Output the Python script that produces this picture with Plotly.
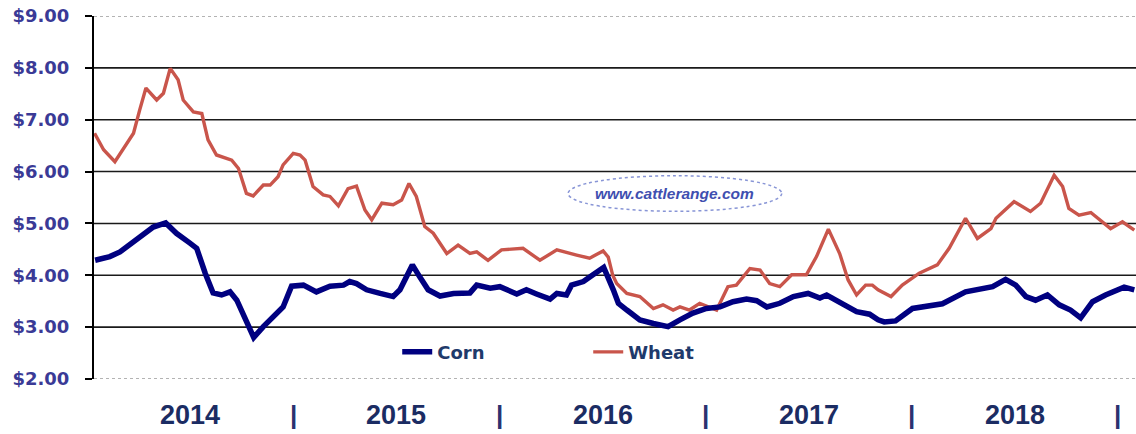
import plotly.graph_objects as go

# ---------------- data ----------------
corn_dates = [
    "2014-01-15", "2014-02-10", "2014-02-28", "2014-03-30", "2014-04-28", "2014-05-20",
    "2014-06-08", "2014-07-02", "2014-07-14", "2014-07-29", "2014-08-12", "2014-08-27",
    "2014-09-11", "2014-09-23", "2014-10-10", "2014-10-23", "2014-11-09", "2014-11-27",
    "2014-12-14", "2014-12-29", "2015-01-19", "2015-02-11", "2015-03-07", "2015-03-31",
    "2015-04-11", "2015-04-23", "2015-05-11", "2015-06-04", "2015-06-27", "2015-07-09",
    "2015-07-31", "2015-08-13", "2015-08-28", "2015-09-18", "2015-10-12", "2015-11-10",
    "2015-11-22", "2015-12-16", "2016-01-02", "2016-02-01", "2016-02-18", "2016-03-07",
    "2016-03-31", "2016-04-12", "2016-04-29", "2016-05-08", "2016-05-29", "2016-06-15",
    "2016-07-04", "2016-07-21", "2016-07-30", "2016-08-14", "2016-09-06", "2016-09-30",
    "2016-10-26", "2016-11-16", "2016-12-09", "2017-01-02", "2017-01-26", "2017-02-18",
    "2017-03-14", "2017-04-01", "2017-04-19", "2017-05-12", "2017-06-05", "2017-07-01",
    "2017-07-22", "2017-08-03", "2017-08-26", "2017-09-25", "2017-10-18", "2017-11-02",
    "2017-11-13", "2017-12-03", "2018-01-02", "2018-01-26", "2018-02-24", "2018-04-06",
    "2018-04-30", "2018-05-24", "2018-06-16", "2018-07-04", "2018-07-22", "2018-08-08",
    "2018-08-29", "2018-09-19", "2018-10-09", "2018-10-27", "2018-11-17", "2018-12-10",
    "2019-01-12", "2019-01-30",
]
corn_values = [
    4.29, 4.36, 4.45, 4.71, 4.93, 5.01,
    4.81, 4.62, 4.52, 4.04, 3.66, 3.62,
    3.68, 3.52, 3.10, 2.80, 3.01, 3.20,
    3.39, 3.79, 3.81, 3.68, 3.79, 3.81,
    3.88, 3.84, 3.72, 3.65, 3.59, 3.72,
    4.20, 3.97, 3.72, 3.60, 3.65, 3.66,
    3.81, 3.75, 3.78, 3.64, 3.72, 3.64,
    3.54, 3.65, 3.62, 3.81, 3.88, 4.01,
    4.15, 3.72, 3.46, 3.33, 3.14, 3.07,
    3.01, 3.14, 3.27, 3.36, 3.39, 3.49,
    3.54, 3.51, 3.39, 3.46, 3.59, 3.65,
    3.56, 3.62, 3.49, 3.30, 3.25, 3.14,
    3.10, 3.12, 3.36, 3.39, 3.45, 3.68,
    3.72, 3.78, 3.92, 3.81, 3.59, 3.52,
    3.62, 3.43, 3.33, 3.18, 3.49, 3.62,
    3.77, 3.72,
]

wheat_dates = [
    "2014-01-14", "2014-01-30", "2014-02-19", "2014-03-12", "2014-03-24", "2014-04-04",
    "2014-04-15", "2014-05-04", "2014-05-16", "2014-05-28", "2014-06-11", "2014-06-20",
    "2014-07-08", "2014-07-23", "2014-08-03", "2014-08-18", "2014-09-14", "2014-09-26",
    "2014-10-10", "2014-10-22", "2014-11-09", "2014-11-21", "2014-12-05", "2014-12-14",
    "2015-01-01", "2015-01-13", "2015-01-22", "2015-02-05", "2015-02-23", "2015-03-07",
    "2015-03-22", "2015-04-08", "2015-04-23", "2015-05-08", "2015-05-20", "2015-06-07",
    "2015-06-27", "2015-07-12", "2015-07-25", "2015-08-07", "2015-08-22", "2015-09-06",
    "2015-09-30", "2015-10-20", "2015-11-10", "2015-11-22", "2015-12-12", "2016-01-05",
    "2016-02-12", "2016-03-13", "2016-04-12", "2016-05-17", "2016-06-09", "2016-07-03",
    "2016-07-12", "2016-07-20", "2016-07-27", "2016-08-14", "2016-09-06", "2016-09-30",
    "2016-10-17", "2016-11-04", "2016-11-16", "2016-12-03", "2016-12-21", "2017-01-20",
    "2017-02-09", "2017-02-24", "2017-03-20", "2017-04-07", "2017-04-24", "2017-05-12",
    "2017-06-02", "2017-06-28", "2017-07-16", "2017-08-06", "2017-08-26", "2017-09-10",
    "2017-09-25", "2017-10-11", "2017-10-23", "2017-11-02", "2017-11-25", "2017-12-15",
    "2018-01-14", "2018-02-15", "2018-03-08", "2018-04-06", "2018-04-27", "2018-05-21",
    "2018-05-30", "2018-07-01", "2018-07-30", "2018-08-17", "2018-09-10", "2018-09-25",
    "2018-10-06", "2018-10-24", "2018-11-14", "2018-12-19", "2019-01-09", "2019-01-30",
]
wheat_values = [
    6.74, 6.42, 6.19, 6.54, 6.74, 7.19,
    7.61, 7.38, 7.51, 7.99, 7.77, 7.38,
    7.15, 7.12, 6.61, 6.32, 6.22, 6.06,
    5.58, 5.53, 5.74, 5.74, 5.90, 6.13,
    6.35, 6.32, 6.22, 5.71, 5.55, 5.52,
    5.34, 5.67, 5.72, 5.26, 5.07, 5.39,
    5.36, 5.45, 5.77, 5.52, 4.94, 4.81,
    4.42, 4.58, 4.42, 4.45, 4.29, 4.49,
    4.52, 4.29, 4.49, 4.39, 4.33, 4.47,
    4.35, 4.00, 3.84, 3.65, 3.59, 3.36,
    3.43, 3.33, 3.39, 3.33, 3.46, 3.33,
    3.78, 3.81, 4.13, 4.10, 3.84, 3.78,
    4.01, 4.01, 4.36, 4.89, 4.42, 3.91,
    3.62, 3.81, 3.81, 3.72, 3.59, 3.81,
    4.04, 4.20, 4.52, 5.10, 4.71, 4.90,
    5.10, 5.42, 5.23, 5.39, 5.93, 5.71,
    5.29, 5.16, 5.21, 4.90, 5.03, 4.87,
]

y_ticks = [2, 3, 4, 5, 6, 7, 8, 9]
y_tick_labels = ["$2.00", "$3.00", "$4.00", "$5.00", "$6.00", "$7.00", "$8.00", "$9.00"]
grid_values = [3, 4, 5, 6, 7, 8]
years = ["2014", "2015", "2016", "2017", "2018"]
year_mid_dates = ["2014-07-02", "2015-07-02", "2016-07-02", "2017-07-02", "2018-07-02"]
year_end_dates = ["2015-01-01", "2016-01-01", "2017-01-01", "2018-01-01", "2019-01-01"]
x_range = ["2014-01-13", "2019-02-02"]
y_range = [2, 9]

# ---------------- figure ----------------
fig = go.Figure()
fig.add_trace(go.Scatter(
    x=wheat_dates, y=wheat_values, mode="lines", name="Wheat", legendrank=2,
    line=dict(color="#C9554B", width=3.4),
))
fig.add_trace(go.Scatter(
    x=corn_dates, y=corn_values, mode="lines", name="Corn", legendrank=1,
    line=dict(color="#000080", width=5.5),
))

shapes = []
for g in grid_values:
    shapes.append(dict(type="line", xref="paper", x0=0, x1=1, yref="y", y0=g, y1=g,
                       line=dict(color="#1a1a1a", width=1.6), layer="below"))
for edge in (y_range[0], y_range[1]):
    shapes.append(dict(type="line", xref="paper", x0=0, x1=1, yref="y", y0=edge, y1=edge,
                       line=dict(color="#9a9a9a", width=1.5, dash="dot"), layer="below"))
# watermark ellipse
shapes.append(dict(type="circle", xref="paper", yref="paper",
                   x0=0.455, x1=0.660, y0=0.462, y1=0.560,
                   line=dict(color="#8895D6", width=1.5, dash="dot"),
                   fillcolor="white", layer="above"))

annotations = []
for yr, d in zip(years, year_mid_dates):
    annotations.append(dict(x=d, xref="x", y=-0.099, yref="paper", text=yr, showarrow=False,
                            font=dict(family="Liberation Sans", size=27, color="#1B2C63", weight="bold"),
                            xanchor="center", yanchor="middle"))
for d in year_end_dates:
    annotations.append(dict(x=d, xref="x", y=-0.099, yref="paper", text="|", showarrow=False,
                            font=dict(family="Liberation Sans", size=26, color="#2A3370", weight="bold"),
                            xanchor="center", yanchor="middle"))
annotations.append(dict(x=0.5575, xref="paper", y=0.512, yref="paper", text="www.cattlerange.com",
                        showarrow=False,
                        font=dict(family="Liberation Sans", size=15.5, color="#3F4FB0",
                                  weight="bold", style="italic"),
                        xanchor="center", yanchor="middle"))

fig.update_layout(
    width=1136, height=434,
    margin=dict(l=94, r=0, t=16, b=55),
    paper_bgcolor="white", plot_bgcolor="white",
    shapes=shapes, annotations=annotations,
    showlegend=True,
    legend=dict(orientation="h", x=0.291, xanchor="left", y=0.074, yanchor="middle",
                bgcolor="rgba(0,0,0,0)", borderwidth=0, traceorder="normal",
                entrywidth=146, entrywidthmode="pixels",
                font=dict(family="DejaVu Sans", size=18, color="#1F3A6B", weight="bold")),
    xaxis=dict(type="date", range=x_range, showgrid=False, showline=False, zeroline=False,
               showticklabels=False, ticks=""),
    yaxis=dict(range=y_range, tickvals=y_ticks, ticktext=y_tick_labels, showgrid=False,
               zeroline=False, showline=True, linecolor="black", linewidth=2,
               ticks="outside", ticklen=7, tickcolor="black", tickwidth=1.5,
               ticklabelstandoff=12,
               tickfont=dict(family="DejaVu Sans", size=18, color="#3A3A96", weight="bold")),
)

fig.write_html("out.html", config={"displayModeBar": False},
               post_script="document.body.style.margin='0';document.body.style.overflow='hidden';")
